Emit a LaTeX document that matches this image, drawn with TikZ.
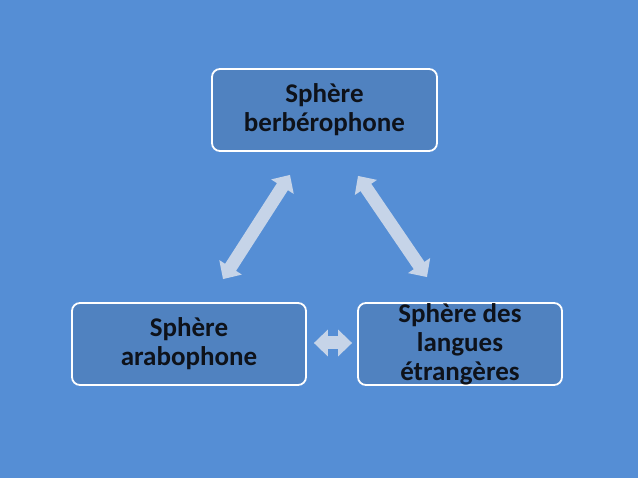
\documentclass[tikz,border=0pt]{standalone}
\usepackage{fontspec}
\setmainfont{Carlito}
\usetikzlibrary{arrows.meta,calc}
\definecolor{bg}{RGB}{85,142,213}
\definecolor{boxfill}{RGB}{80,130,192}
\definecolor{arrowc}{RGB}{198,212,232}
\definecolor{txt}{RGB}{14,18,26}
\begin{document}
\begin{tikzpicture}[x=1pt,y=-1pt,
  box/.style={draw=white, line width=1.8pt, fill=boxfill, rounded corners=8pt,
    minimum height=82pt, align=center, inner sep=0pt, text=txt,
    font=\fontsize{27}{29}\selectfont\bfseries},
  dbl/.style={draw=arrowc, line width=13pt,
    {Triangle[width=26pt,length=14pt]}-{Triangle[width=26pt,length=14pt]}}]
\fill[bg] (0,0) rectangle (638,478);
\useasboundingbox (0,0) rectangle (638,478);
\node[box, minimum width=225pt] (top) at (324.5,110) {Sphère\\berbérophone};
\node[box, minimum width=234pt] (left) at (189,344) {Sphère\\arabophone};
\node[box, minimum width=204pt] (right) at (460,344) {Sphère des\\langues\\étrangères};
\coordinate (a1) at ($(top.south)+(-34.5,23)$);
\coordinate (a2) at ($(left.north)+(34,-23)$);
\coordinate (b1) at ($(top.south)+(33.5,24)$);
\coordinate (b2) at ($(right.north)+(-33,-25)$);
\coordinate (c1) at ($(left.east)+(7,-1)$);
\coordinate (c2) at ($(right.west)+(-5,-1)$);
\draw[dbl] (a2) -- (a1);
\draw[dbl] (b1) -- (b2);
\draw[dbl] (c1) -- (c2);
\end{tikzpicture}
\end{document}
